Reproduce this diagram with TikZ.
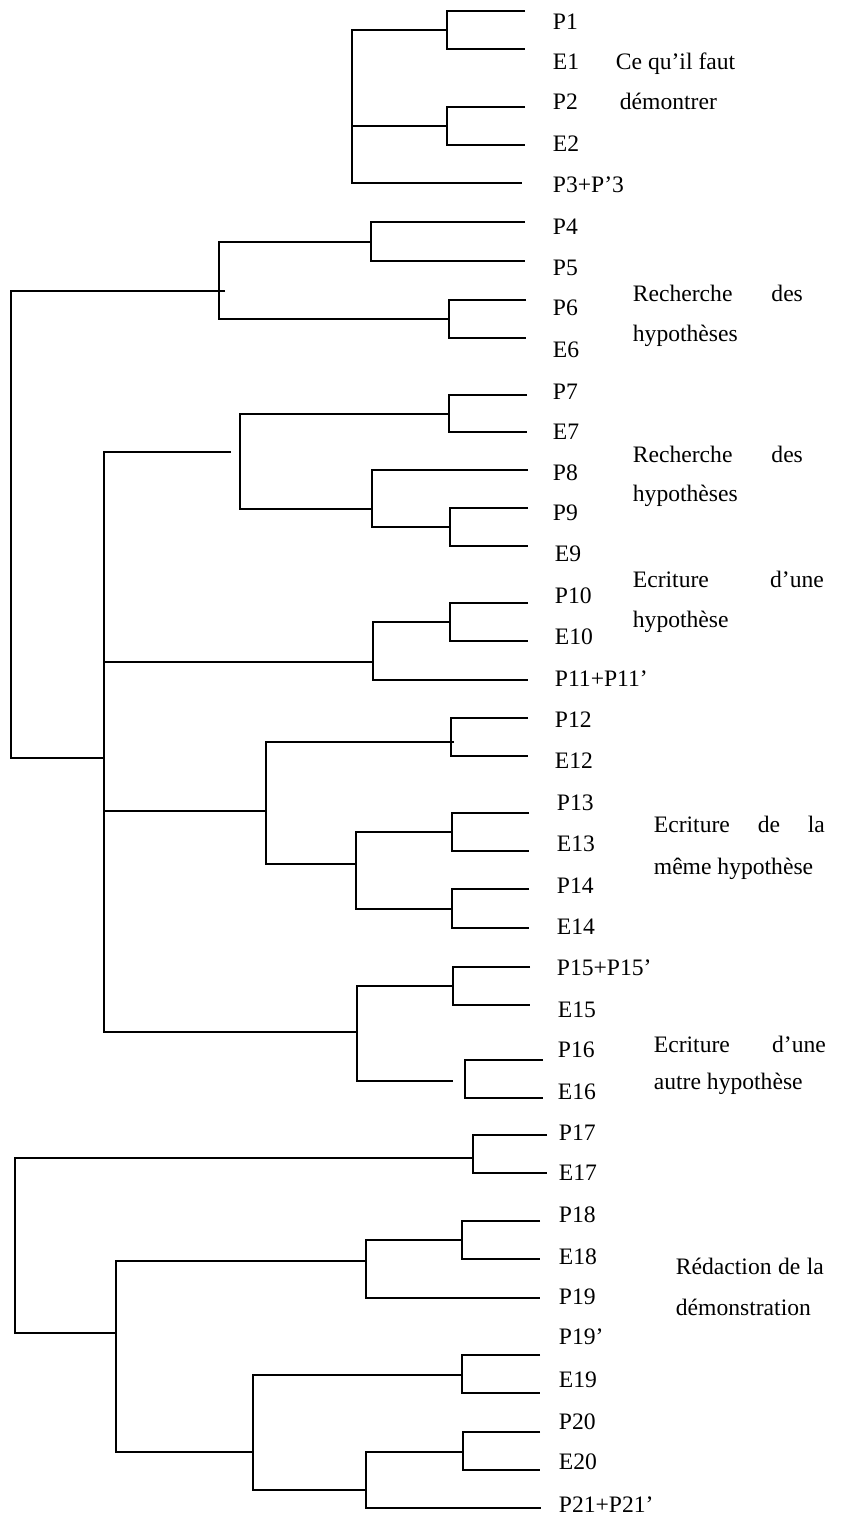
\documentclass[tikz,border=0pt]{standalone}
\usepackage{fontspec}
\setmainfont{Liberation Serif}
\usepackage{tikz}
\usetikzlibrary{calc}
\newcommand{\spreadline}[2]{\makebox[#1][s]{#2}}

\begin{document}
\begin{tikzpicture}[x=1pt,y=-1pt,line width=1.8pt,
  leaf/.style={anchor=base west,inner sep=0pt,font=\fontsize{23.6}{28}\selectfont},
  note/.style={anchor=base west,inner sep=0pt,font=\fontsize{23.6}{28}\selectfont}]
\useasboundingbox (0,0) rectangle (852,1524);
% leaf ends
\foreach \n/\x/\y in {P1/525/11, E1/525/49, P2/525/107, E2/525/145, P3/522/183,
  P4/525/222, P5/525/261, P6/526/300, E6/526/338, P7/527/395, E7/527/432,
  P8/528/470, P9/528/508, E9/528/546, P10/528/603, E10/528/641, P11/528/680,
  P12/528/718, E12/528/756, P13/529/813, E13/529/851, P14/529/889, E14/529/928,
  P15/530/967, E15/530/1005, P16/543/1060, E16/543/1098, P17/547/1135, E17/547/1173,
  P18/540/1221, E18/540/1259, P19/540/1298, P19b/540/1355, E19/540/1393,
  P20/540/1432, E20/540/1470, P21/541/1508}
  \coordinate (\n) at (\x,\y);
% leaf labels
\foreach \n/\t/\x/\y in {P1/P1/552/22, E1/E1/552/62, P2/P2/552/102, E2/E2/552/144,
  P3/P3+P’3/552/185, P4/P4/552/227, P5/P5/552/268, P6/P6/552/308, E6/E6/552/350,
  P7/P7/552/392, E7/E7/552/432, P8/P8/552/473, P9/P9/552/513, E9/E9/554/554,
  P10/P10/554/596, E10/E10/554/637, P11/P11+P11’/554/679, P12/P12/554/720,
  E12/E12/554/761, P13/P13/556/803, E13/E13/556/844, P14/P14/556/886,
  E14/E14/556/927, P15/P15+P15’/556/968, E15/E15/557/1010, P16/P16/557/1050,
  E16/E16/557/1092, P17/P17/558/1133, E17/E17/558/1173, P18/P18/558/1215,
  E18/E18/558/1257, P19/P19/558/1297, P19b/P19’/558/1337, E19/E19/558/1380,
  P20/P20/558/1422, E20/E20/558/1462, P21/P21+P21’/558/1505}
  \node[leaf] (l\n) at (\x,\y+7) {\t};
% junctions
\coordinate (a1) at (447,30);  \coordinate (a2) at (447,126); \coordinate (a0) at (352,30);
\coordinate (b1) at (371,242); \coordinate (b2) at (449,319); \coordinate (b0) at (219,291);
\coordinate (r0) at (11,291);
\coordinate (c11) at (449,414); \coordinate (c121) at (450,527);
\coordinate (c12) at (372,509); \coordinate (c1) at (240,452);
\coordinate (c21) at (450,622); \coordinate (c2) at (373,662);
\coordinate (c31) at (451,742); \coordinate (c321) at (452,832);
\coordinate (c322) at (452,909); \coordinate (c32) at (356,864); \coordinate (c3) at (266,811);
\coordinate (c41) at (453,986); \coordinate (c42) at (465,1081); \coordinate (c4) at (357,1032);
\coordinate (c0) at (104,758);
\coordinate (d1) at (473,1158); \coordinate (d211) at (462,1240); \coordinate (d21) at (366,1261);
\coordinate (d221) at (462,1375); \coordinate (d2221) at (463,1452);
\coordinate (d222) at (366,1490); \coordinate (d22) at (253,1452);
\coordinate (d2) at (116,1333); \coordinate (s0) at (15,1158);
% ce qu'il faut demontrer
\draw (P1) -| (a1) |- (E1);
\draw (P2) -| (a2) |- (E2);
\draw (a1) -| (a0) |- (P3);
\draw (a2) -- (a2 -| a0);
% recherche / ecriture
\draw (P4) -| (b1) |- (P5);
\draw (P6) -| (b2) |- (E6);
\draw (b1) -| (b0) |- (b2);
\draw ([xshift=6pt]b0) -| (r0) |- (c0);
\draw (P7) -| (c11) |- (E7);
\draw (P9) -| (c121) |- (E9);
\draw (P8) -| (c12) |- (c121);
\draw (c11) -| (c1) |- (c12);
\draw (P10) -| (c21) |- (E10);
\draw (c21) -| (c2) |- (P11);
\draw (P12) -| (c31) |- (E12);
\draw (P13) -| (c321) |- (E13);
\draw (P14) -| (c322) |- (E14);
\draw (c321) -| (c32) |- (c322);
\draw ([xshift=3pt]c31) -| (c3) |- (c32);
\draw (P15) -| (c41) |- (E15);
\draw (P16) -| (c42) |- (E16);
\draw (c41) -| (c4) |- ([xshift=-12pt]c42);
\draw ([xshift=-9pt]c1) -| (c0) |- (c4);
\draw (c2) -- (c2 -| c0);
\draw (c3) -- (c3 -| c0);
% redaction
\draw (P17) -| (d1) |- (E17);
\draw (P18) -| (d211) |- (E18);
\draw (d211) -| (d21) |- (P19);
\draw (P19b) -| (d221) |- (E19);
\draw (P20) -| (d2221) |- (E20);
\draw (d2221) -| (d222) |- (P21);
\draw (d221) -| (d22) |- (d222);
\draw (d21) -| (d2) |- (d22);
\draw (d1) -| (s0) |- (d2);
% phases
\node[note] (t1) at (615,69) {Ce qu’il faut};
\node[note] (t1b) at (619,109) {démontrer};
\node[note] (t2) at (632,301) {\spreadline{170pt}{Recherche des}};
\node[note] (t2b) at (632,341) {hypothèses};
\node[note] (t3) at (632,462) {\spreadline{170pt}{Recherche des}};
\node[note] (t3b) at (632,501) {hypothèses};
\node[note] (t4) at (632,587) {\spreadline{191pt}{Ecriture d’une}};
\node[note] (t4b) at (632,627) {hypothèse};
\node[note] (t5) at (653,832) {\spreadline{171pt}{Ecriture de la}};
\node[note] (t5b) at (653,874) {même hypothèse};
\node[note] (t6) at (653,1052) {\spreadline{172pt}{Ecriture d’une}};
\node[note] (t6b) at (653,1089) {autre hypothèse};
\node[note] (t7) at (675,1274) {\spreadline{148pt}{Rédaction de la}};
\node[note] (t7b) at (675,1315) {démonstration};
\end{tikzpicture}
\end{document}
